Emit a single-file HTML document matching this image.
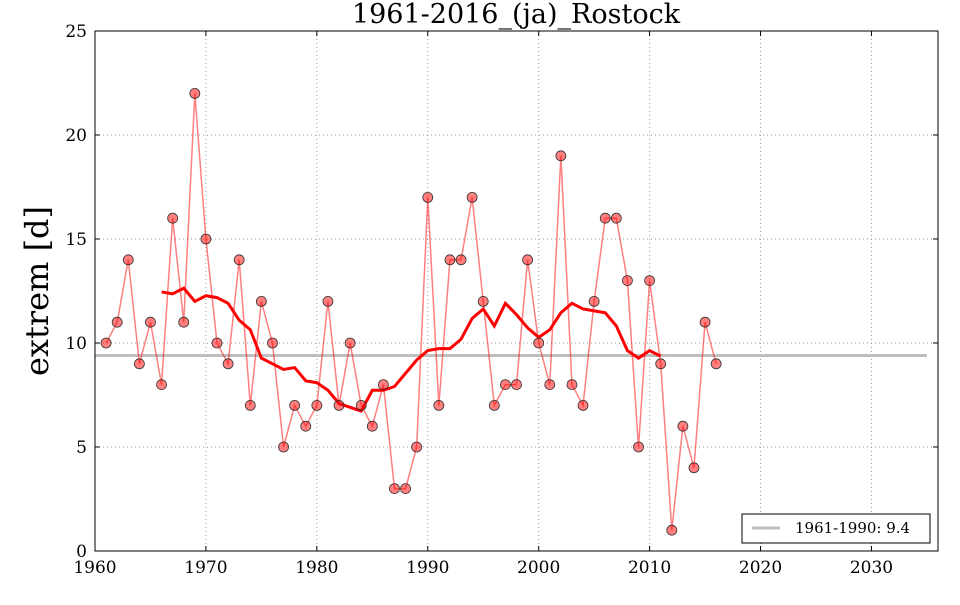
<!DOCTYPE html>
<html><head><meta charset="utf-8"><style>
body{margin:0;background:#fff;}
svg text{font-family:"DejaVu Serif","Liberation Serif",serif;}
</style></head><body>
<svg id="chart" width="960" height="600" xmlns="http://www.w3.org/2000/svg">
<rect width="960" height="600" fill="#fff"/>
<text x="516" y="23" font-size="27" text-anchor="middle">1961-2016_(ja)_Rostock</text>
<text transform="translate(48,291) rotate(-90)" font-size="32" text-anchor="middle">extrem [d]</text>
<g id="grid"></g><g id="ticks"></g><g id="series"></g>
<rect x="95" y="31" width="843" height="520" fill="none" stroke="#000" stroke-width="1"/>
<g>
<rect x="742" y="514" width="188" height="29" fill="#fff" stroke="#000"/>
<line x1="752" y1="528" x2="780" y2="528" stroke="#bfbfbf" stroke-width="3"/>
<text x="795" y="533" font-size="15">1961-1990: 9.4</text>
</g>
</svg>
<script>
const years=[1961,1962,1963,1964,1965,1966,1967,1968,1969,1970,1971,1972,1973,1974,1975,1976,1977,1978,1979,1980,1981,1982,1983,1984,1985,1986,1987,1988,1989,1990,1991,1992,1993,1994,1995,1996,1997,1998,1999,2000,2001,2002,2003,2004,2005,2006,2007,2008,2009,2010,2011,2012,2013,2014,2015,2016];
const values=[10,11,14,9,11,8,16,11,22,15,10,9,14,7,12,10,5,7,6,7,12,7,10,7,6,8,3,3,5,17,7,14,14,17,12,7,8,8,14,10,8,19,8,7,12,16,16,13,5,13,9,1,6,4,11,9];
const baseline=9.4;
const xTicks=[1960,1970,1980,1990,2000,2010,2020,2030];
const yTicks=[0,5,10,15,20,25];
const X0=95,X1=938,Y0=551,Y1=31;
const xs=v=>X0+(v-1960)*(X1-X0)/76;
const ys=v=>Y0-(v)*(Y0-Y1)/25;
const NS="http://www.w3.org/2000/svg";
function mk(t,a,p){const e=document.createElementNS(NS,t);for(const k in a)e.setAttribute(k,a[k]);p.appendChild(e);return e;}
const grid=document.getElementById('grid'),ticks=document.getElementById('ticks'),ser=document.getElementById('series');
xTicks.forEach(t=>{const x=xs(t);
 const g=mk('line',{x1:x,x2:x,y1:Y1,y2:Y0,stroke:'#999','stroke-dasharray':'1,3'},grid);
 
 
 mk('line',{x1:x,x2:x,y1:Y0,y2:Y0-5,stroke:'#000'},ticks);
 mk('line',{x1:x,x2:x,y1:Y1,y2:Y1+5,stroke:'#000'},ticks);
 const l=mk('text',{x:x,y:Y0+22,'font-size':17,'text-anchor':'middle'},ticks);l.textContent=t;
 
 
});
yTicks.forEach(t=>{const y=ys(t);
 const g=mk('line',{x1:X0,x2:X1,y1:y,y2:y,stroke:'#999','stroke-dasharray':'1,3'},grid);
 
 
 mk('line',{x1:X0,x2:X0+5,y1:y,y2:y,stroke:'#000'},ticks);
 mk('line',{x1:X1,x2:X1-5,y1:y,y2:y,stroke:'#000'},ticks);
 const l=mk('text',{x:X0-8,y:y+6,'font-size':17,'text-anchor':'end'},ticks);l.textContent=t;
 
 
});
const bl=mk('line',{x1:xs(1960),x2:xs(2035),y1:ys(baseline),y2:ys(baseline),stroke:'#bfbfbf','stroke-width':3},ser);


const line=mk('polyline',{points:years.map((y,i)=>xs(y)+','+ys(values[i])).join(' '),fill:'none',stroke:'#ff0000','stroke-opacity':0.5,'stroke-width':1.5},ser);


const ma=[];
for(let i=5;i<values.length-5;i++){let s=0;for(let j=i-5;j<=i+5;j++)s+=values[j];ma.push([years[i],s/11]);}
const mal=mk('polyline',{points:ma.map(p=>xs(p[0])+','+ys(p[1])).join(' '),fill:'none',stroke:'#ff0000','stroke-width':3},ser);


years.forEach((y,i)=>{const c=mk('circle',{cx:xs(y),cy:ys(values[i]),r:5,fill:'rgba(255,0,0,0.5)',stroke:'#333','stroke-width':0.8},ser);
 
 
});
</script>
</body></html>
